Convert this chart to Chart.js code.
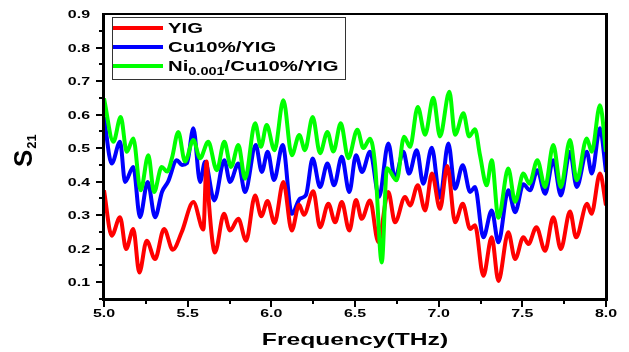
<!DOCTYPE html>
<html>
<head>
<meta charset="utf-8">
<script src="https://cdn.jsdelivr.net/npm/chart.js@4/dist/chart.umd.min.js"></script>
<style>
html, body { margin: 0; padding: 0; background: #fff; }
#wrap { width: 629px; height: 352px; }
</style>
</head>
<body>
<div id="wrap"><canvas id="chart"></canvas></div>
<script>
// values (frequency in THz, S21)
const yigFreq = [5.0,5.046,5.096,5.132,5.175,5.211,5.255,5.305,5.359,5.411,5.464,5.534,5.594,5.613,5.628,5.663,5.717,5.753,5.803,5.849,5.903,5.940,5.977,6.019,6.072,6.122,6.166,6.195,6.251,6.291,6.341,6.381,6.421,6.466,6.506,6.540,6.590,6.639,6.699,6.739,6.799,6.829,6.875,6.919,6.960,7.008,7.052,7.098,7.144,7.188,7.217,7.267,7.317,7.357,7.416,7.457,7.506,7.536,7.584,7.636,7.685,7.730,7.785,7.821,7.887,7.913,7.964,8.000];
const yigS21 = [0.374,0.239,0.294,0.199,0.259,0.129,0.224,0.169,0.259,0.197,0.249,0.339,0.257,0.46,0.33,0.189,0.304,0.254,0.289,0.224,0.359,0.297,0.342,0.277,0.399,0.254,0.331,0.301,0.371,0.264,0.334,0.279,0.339,0.254,0.345,0.289,0.344,0.22,0.369,0.279,0.354,0.329,0.389,0.314,0.424,0.319,0.447,0.279,0.334,0.259,0.27,0.119,0.234,0.104,0.249,0.169,0.234,0.214,0.264,0.194,0.294,0.199,0.311,0.234,0.334,0.304,0.424,0.329];

const cuFreq = [5.0,5.046,5.096,5.126,5.175,5.215,5.261,5.305,5.347,5.383,5.435,5.466,5.496,5.534,5.574,5.604,5.659,5.719,5.753,5.803,5.843,5.907,5.943,5.978,6.016,6.068,6.122,6.171,6.207,6.247,6.291,6.335,6.375,6.421,6.466,6.506,6.542,6.590,6.644,6.699,6.739,6.789,6.823,6.869,6.908,6.959,7.008,7.058,7.098,7.144,7.188,7.217,7.267,7.317,7.357,7.416,7.457,7.506,7.546,7.590,7.636,7.685,7.730,7.785,7.825,7.885,7.915,7.964,8.000];
const cuS21 = [0.593,0.454,0.519,0.399,0.444,0.294,0.399,0.294,0.37,0.40,0.464,0.450,0.455,0.559,0.399,0.459,0.344,0.464,0.399,0.454,0.369,0.509,0.429,0.489,0.405,0.509,0.304,0.349,0.36,0.469,0.384,0.454,0.389,0.474,0.369,0.479,0.429,0.489,0.355,0.514,0.409,0.489,0.424,0.494,0.394,0.501,0.352,0.514,0.379,0.449,0.369,0.384,0.234,0.314,0.219,0.374,0.309,0.392,0.374,0.434,0.364,0.464,0.359,0.489,0.384,0.489,0.424,0.559,0.429];

const niFreq = [5.0,5.056,5.100,5.136,5.175,5.219,5.265,5.299,5.345,5.377,5.406,5.444,5.484,5.534,5.574,5.623,5.674,5.719,5.759,5.803,5.843,5.903,5.938,5.972,6.019,6.072,6.122,6.167,6.201,6.247,6.291,6.335,6.371,6.415,6.460,6.514,6.550,6.590,6.620,6.660,6.691,6.749,6.793,6.829,6.875,6.919,6.968,7.008,7.064,7.098,7.148,7.182,7.217,7.247,7.287,7.317,7.357,7.416,7.457,7.506,7.542,7.590,7.636,7.685,7.730,7.785,7.825,7.885,7.915,7.964,8.000];
const niS21 = [0.648,0.519,0.593,0.489,0.529,0.374,0.479,0.369,0.444,0.43,0.47,0.548,0.46,0.524,0.47,0.519,0.434,0.519,0.444,0.509,0.409,0.574,0.504,0.569,0.494,0.643,0.479,0.539,0.494,0.593,0.485,0.548,0.490,0.574,0.470,0.555,0.500,0.528,0.45,0.159,0.44,0.404,0.534,0.504,0.623,0.54,0.650,0.535,0.668,0.540,0.604,0.535,0.556,0.479,0.389,0.464,0.292,0.439,0.340,0.424,0.394,0.464,0.384,0.509,0.384,0.524,0.404,0.529,0.489,0.628,0.489];

const yTicks = [0.1,0.2,0.3,0.4,0.5,0.6,0.7,0.8,0.9];
const xTicks = [5.0,5.5,6.0,6.5,7.0,7.5,8.0];

const FONT = '"Liberation Sans", Arial, sans-serif';
const SX = 1.45; // the original text is drawn wide

function toPoints(xs, ys) {
	return xs.map((x, i) => ({ x: x, y: ys[i] }));
}

function wideText(ctx, txt, x, y, align) {
	const w = ctx.measureText(txt).width * SX;
	let x0 = x;
	if (align === 'right') x0 = x - w;
	if (align === 'center') x0 = x - w / 2;
	ctx.save();
	ctx.translate(x0, y);
	ctx.scale(SX, 1);
	ctx.textAlign = 'left';
	ctx.fillText(txt, 0, 0);
	ctx.restore();
	return w;
}

const decorations = {
	id: 'decorations',
	afterDraw(chart) {
		const ctx = chart.ctx;
		const xs = chart.scales.x, ys = chart.scales.y;
		const a = chart.chartArea;
		ctx.save();
		ctx.fillStyle = '#000';

		// frame
		ctx.fillRect(102, 13, 3, 288);
		ctx.fillRect(102, 298, 506, 3);
		ctx.fillRect(605, 13, 3, 288);
		ctx.fillRect(102, 13, 506, 2);

		// y ticks
		for (let v = 0.05; v < 0.9; v += 0.05) {
			const py = Math.round(ys.getPixelForValue(v));
			const major = Math.abs(v * 10 - Math.round(v * 10)) < 0.01;
			const len = major ? 6 : 3;
			ctx.fillRect(102 - len, py - 1, len, 2);
		}
		// x ticks
		for (let v = 5.0; v <= 8.001; v += 0.25) {
			const px = Math.round(xs.getPixelForValue(v));
			const major = Math.abs(v * 2 - Math.round(v * 2)) < 0.01;
			const len = major ? 6 : 3;
			ctx.fillRect(px - 1, 301, 2, len);
		}

		// tick labels
		ctx.font = 'bold 11px ' + FONT;
		ctx.textBaseline = 'alphabetic';
		yTicks.forEach(v => {
			wideText(ctx, v.toFixed(1), 90, ys.getPixelForValue(v) + 4, 'right');
		});
		xTicks.forEach(v => {
			wideText(ctx, v.toFixed(1), xs.getPixelForValue(v), 317, 'center');
		});

		// axis titles
		ctx.font = 'bold 17px ' + FONT;
		wideText(ctx, 'Frequency(THz)', 355, 345, 'center');

		ctx.save();
		ctx.translate(32, 167);
		ctx.rotate(-Math.PI / 2);
		ctx.font = 'bold 26px ' + FONT;
		ctx.textAlign = 'left';
		ctx.fillText('S', 0, 0);
		const sw = ctx.measureText('S').width;
		ctx.font = 'bold 13px ' + FONT;
		ctx.fillText('21', sw + 1, 4);
		ctx.restore();

		// legend
		ctx.strokeStyle = '#333';
		ctx.lineWidth = 1;
		ctx.strokeRect(112.5, 17.5, 233, 62);
		const rows = [
			{ y: 28, color: '#ff0000', parts: [['YIG', 14, 0]] },
			{ y: 47, color: '#0000ff', parts: [['Cu10%/YIG', 14, 0]] },
			{ y: 66, color: '#00ff00', parts: [['Ni', 14, 0], ['0.001', 10, 4], ['/Cu10%/YIG', 14, 0]] }
		];
		rows.forEach(r => {
			ctx.strokeStyle = r.color;
			ctx.lineWidth = 4;
			ctx.beginPath();
			ctx.moveTo(113, r.y);
			ctx.lineTo(163, r.y);
			ctx.stroke();
			ctx.fillStyle = '#000';
			let x = 168;
			r.parts.forEach(p => {
				ctx.font = 'bold ' + p[1] + 'px ' + FONT;
				x += wideText(ctx, p[0], x, r.y + 5 + p[2], 'left');
			});
		});
		ctx.restore();
	}
};

const data = {
	datasets: [
		{
			label: 'YIG',
			data: toPoints(yigFreq, yigS21),
			borderColor: '#ff0000',
			order: 2
		},
		{
			label: 'Cu10%/YIG',
			data: toPoints(cuFreq, cuS21),
			borderColor: '#0000ff',
			order: 3
		},
		{
			label: 'Ni0.001/Cu10%/YIG',
			data: toPoints(niFreq, niS21),
			borderColor: '#00ff00',
			order: 1
		}
	]
};
data.datasets.forEach(d => {
	d.borderWidth = 4;
	d.pointRadius = 0;
	d.fill = false;
	d.cubicInterpolationMode = 'monotone';
});

new Chart(document.getElementById('chart'), {
	type: 'line',
	data,
	options: {
		responsive: true,
		maintainAspectRatio: false,
		animation: false,
		layout: { padding: { left: 104, right: 23, top: 14, bottom: 53 } },
		plugins: { legend: { display: false }, tooltip: { enabled: false } },
		scales: {
			x: { type: 'linear', min: 5, max: 8, display: false },
			y: { min: 0.05, max: 0.9, display: false }
		}
	},
	plugins: [decorations]
});
</script>
</body>
</html>
